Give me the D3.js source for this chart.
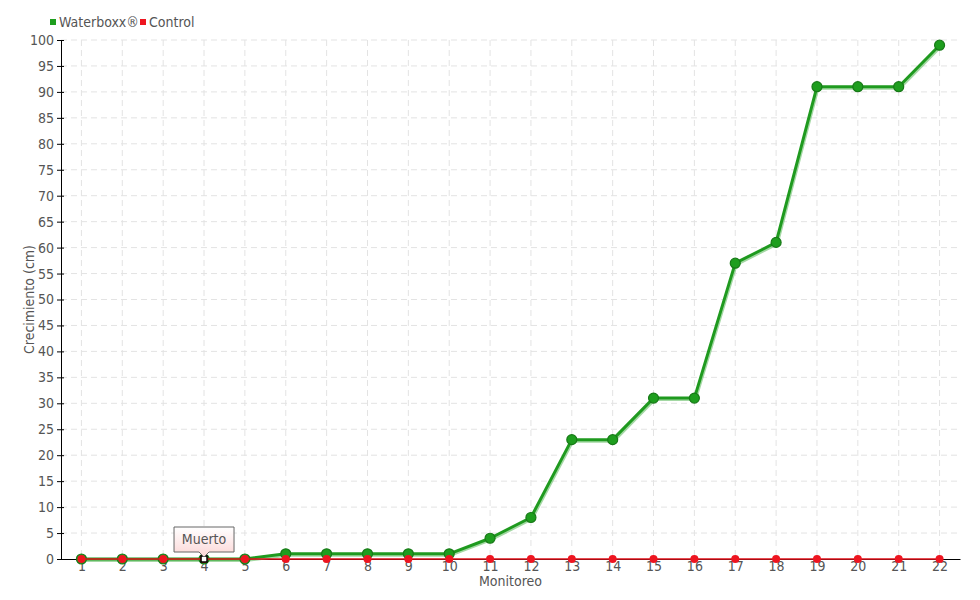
<!DOCTYPE html>
<html><head><meta charset="utf-8">
<script src="https://cdn.jsdelivr.net/npm/d3@7"></script>
<style>
body{margin:0;background:#fff;}
text{font-family:"DejaVu Sans Condensed","Liberation Sans Narrow",sans-serif;fill:#555;}
</style></head>
<body><svg id="c" width="980" height="600"></svg>
<script>
const categories = ["1","2","3","4","5","6","7","8","9","10","11","12","13","14","15","16","17","18","19","20","21","22"];
const waterboxx = [0,0,0,0,0,1,1,1,1,1,4,8,23,23,31,31,57,61,91,91,91,99];
const control = [0,0,0,0,0,0,0,0,0,0,0,0,0,0,0,0,0,0,0,0,0,0];
const yTicks = d3.range(0,101,5);
const seriesNames = ["Waterboxx®","Control"];
const annotation = {index:3, label:"Muerto"};

const svg = d3.select("#c");
const L=61,R=960,T=40,B=559;
const x = d3.scalePoint().domain(categories).range([L,R]).padding(0.5);
const y = d3.scaleLinear().domain([0,100]).range([B,T]);

// grid
const g = svg.append("g");
g.selectAll(".hg").data(yTicks.filter(d=>d>0)).enter().append("line")
 .attr("x1",L).attr("x2",R).attr("y1",d=>y(d)).attr("y2",d=>y(d))
 .attr("stroke","#e3e3e3").attr("stroke-dasharray","6,4");
g.selectAll(".vg").data(categories).enter().append("line")
 .attr("x1",d=>x(d)).attr("x2",d=>x(d)).attr("y1",T).attr("y2",B)
 .attr("stroke","#e3e3e3").attr("stroke-dasharray","6,4");

// axes
const ya = svg.append("g").attr("transform",`translate(${L},0)`)
 .call(d3.axisLeft(y).tickValues(yTicks).tickSize(4).tickSizeOuter(0).tickPadding(3));
ya.select(".domain").attr("stroke","#000");
ya.selectAll(".tick line").attr("x2",-4).attr("x1",3).attr("stroke","#000");
ya.selectAll("text").style("font-size","14px").attr("fill","#555");
const xa = svg.append("g").attr("transform",`translate(0,${B})`)
 .call(d3.axisBottom(x).tickSize(0).tickPadding(2));
xa.select(".domain").attr("stroke","#000");
xa.selectAll("text").style("font-size","14px").attr("fill","#555");

svg.append("text").attr("transform",`translate(34,${(T+B)/2}) rotate(-90)`)
 .attr("text-anchor","middle").style("font-size","14px").text("Crecimiento (cm)");
svg.append("text").attr("x",(L+R)/2).attr("y",586).attr("text-anchor","middle")
 .style("font-size","14px").text("Monitoreo");

// lines
const line = d3.line().x((d,i)=>x(categories[i])).y(d=>y(d));
svg.append("path").datum(waterboxx).attr("d",line).attr("fill","none")
 .attr("stroke","#7cc87c").attr("stroke-width",3).attr("transform","translate(1,1.5)").attr("opacity",0.7);
svg.append("path").datum(waterboxx).attr("d",line).attr("fill","none")
 .attr("stroke","#1f9a1f").attr("stroke-width",3).attr("stroke-linejoin","round");
svg.selectAll(".wp").data(waterboxx).enter().append("circle")
 .attr("cx",(d,i)=>x(categories[i])).attr("cy",d=>y(d)).attr("r",5)
 .attr("fill","#1e9e1e").attr("stroke","#187a18").attr("stroke-width",1.2);

svg.append("path").datum(control).attr("d",line).attr("fill","none")
 .attr("stroke","#e0101a").attr("stroke-width",1.5);
svg.selectAll(".cp").data(control).enter().append("circle")
 .attr("cx",(d,i)=>x(categories[i])).attr("cy",d=>y(d)).attr("r",4)
 .attr("fill","#ee1520");

// annotation
const ax = x(categories[annotation.index]), ay = y(control[annotation.index]);
svg.append("rect").attr("x",ax-3).attr("y",ay-3).attr("width",6).attr("height",6)
 .attr("fill","#fff").attr("stroke","#000").attr("stroke-width",1.5);
const defs = svg.append("defs");
const gr = defs.append("linearGradient").attr("id","tg").attr("x1",0).attr("y1",0).attr("x2",0).attr("y2",1);
gr.append("stop").attr("offset","0").attr("stop-color","#ffffff");
gr.append("stop").attr("offset","1").attr("stop-color","#fcd6d6");
const bw=60,bh=25,bx=ax-30,by=ay-32;
svg.append("path").attr("d",`M${bx},${by}H${bx+bw}V${by+bh}H${ax+5}L${ax},${by+bh+5}L${ax-5},${by+bh}H${bx}Z`)
 .attr("fill","url(#tg)").attr("stroke","#666").attr("stroke-width",1);
svg.append("text").attr("x",ax).attr("y",by+17).attr("text-anchor","middle")
 .style("font-size","14px").text(annotation.label);

// legend
const lg = svg.append("g");
const lcol = ["#1e9e1e","#ee1520"];
const lx = [50,140];
seriesNames.forEach((n,i)=>{
  lg.append("rect").attr("x",lx[i]).attr("y",19).attr("width",6).attr("height",6).attr("fill",lcol[i]);
  lg.append("text").attr("x",lx[i]+9).attr("y",26.5).style("font-size","14px").text(n);
});
</script></body></html>
